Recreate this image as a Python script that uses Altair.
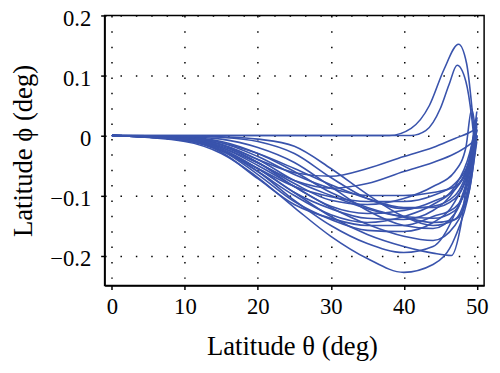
import altair as alt
import pandas as pd

# Each trajectory: latitude theta (x, deg) and latitude phi (y, deg)
peak_a_x = [0, 20, 38, 41, 43.5, 45.5, 47.5, 48.6, 49.3, 49.8]
peak_a_y = [0, 0, 0, 0.012, 0.05, 0.11, 0.152, 0.12, 0.05, -0.02]

peak_b_x = [0, 20, 41, 43, 45, 46.2, 47.3, 48.5, 49.3, 49.8]
peak_b_y = [0, 0, 0, 0.008, 0.045, 0.085, 0.117, 0.09, 0.03, -0.03]

xs_common = [0, 10, 15, 20, 25, 30, 35, 40, 44, 47, 49, 50]

c1_y = [0, -0.010, -0.030, -0.070, -0.120, -0.168, -0.205, -0.228, -0.215, -0.170, -0.090, -0.010]
c2_x = [0, 10, 15, 20, 25, 30, 35, 40, 44, 46.5, 47.8, 49.0, 49.8]
c2_y = [0, -0.008, -0.025, -0.055, -0.095, -0.135, -0.165, -0.185, -0.196, -0.200, -0.150, -0.040, 0.020]
c3_y = [0, -0.008, -0.025, -0.060, -0.108, -0.150, -0.180, -0.195, -0.185, -0.130, -0.060, 0.000]
c4_y = [0, -0.006, -0.020, -0.050, -0.085, -0.120, -0.148, -0.168, -0.175, -0.150, -0.080, 0.010]
c5_y = [0, -0.008, -0.025, -0.065, -0.110, -0.140, -0.158, -0.160, -0.145, -0.110, -0.050, 0.030]
c6_y = [0, -0.004, -0.015, -0.040, -0.075, -0.100, -0.122, -0.136, -0.145, -0.140, -0.090, 0.000]
c7_y = [0, -0.006, -0.022, -0.055, -0.095, -0.122, -0.138, -0.140, -0.125, -0.090, -0.040, 0.020]
c8_y = [0, -0.003, -0.010, -0.030, -0.060, -0.095, -0.120, -0.135, -0.138, -0.125, -0.060, 0.010]
c9_y = [0, -0.002, -0.006, -0.020, -0.045, -0.085, -0.125, -0.150, -0.155, -0.130, -0.060, 0.000]
c10_y = [0, -0.008, -0.025, -0.055, -0.085, -0.102, -0.110, -0.110, -0.100, -0.080, -0.040, 0.040]
c11_y = [0, -0.004, -0.015, -0.040, -0.062, -0.068, -0.055, -0.035, -0.020, -0.005, 0.005, 0.012]
c12_y = [0, -0.006, -0.020, -0.046, -0.075, -0.088, -0.080, -0.060, -0.045, -0.030, -0.015, -0.005]
c13_y = [0, -0.004, -0.012, -0.035, -0.065, -0.088, -0.100, -0.100, -0.095, -0.085, -0.050, 0.020]
c14_y = [0, -0.005, -0.018, -0.045, -0.085, -0.118, -0.130, -0.125, -0.110, -0.090, -0.040, 0.030]
c15_y = [0, -0.003, -0.012, -0.030, -0.055, -0.082, -0.105, -0.120, -0.120, -0.105, -0.050, 0.010]
c16_y = [0, -0.008, -0.028, -0.072, -0.115, -0.138, -0.150, -0.150, -0.135, -0.120, -0.070, 0.000]
c17_x = [0, 10, 15, 20, 25, 30, 35, 40, 44, 47, 48.5, 49.3, 49.8]
c17_y = [0, -0.005, -0.016, -0.045, -0.080, -0.108, -0.115, -0.105, -0.085, -0.060, -0.020, 0.044, 0.010]
c18_y = [0, -0.007, -0.024, -0.060, -0.100, -0.132, -0.145, -0.135, -0.115, -0.085, -0.030, 0.026]
c19_y = [0, -0.001, -0.002, -0.006, -0.018, -0.055, -0.098, -0.135, -0.150, -0.140, -0.075, 0.000]
c20_y = [0, -0.001, -0.003, -0.010, -0.030, -0.070, -0.105, -0.122, -0.118, -0.100, -0.045, 0.015]

curves = {
    "pa": (peak_a_x, peak_a_y), "pb": (peak_b_x, peak_b_y),
    "c1": (xs_common, c1_y), "c2": (c2_x, c2_y), "c3": (xs_common, c3_y),
    "c4": (xs_common, c4_y), "c5": (xs_common, c5_y), "c6": (xs_common, c6_y),
    "c7": (xs_common, c7_y), "c8": (xs_common, c8_y), "c9": (xs_common, c9_y),
    "c10": (xs_common, c10_y), "c11": (xs_common, c11_y), "c12": (xs_common, c12_y),
    "c13": (xs_common, c13_y), "c14": (xs_common, c14_y), "c15": (xs_common, c15_y),
    "c16": (xs_common, c16_y), "c17": (c17_x, c17_y), "c18": (xs_common, c18_y),
    "c19": (xs_common, c19_y), "c20": (xs_common, c20_y),
}

rows = []
for name, (xv, yv) in curves.items():
    for i, (a, b) in enumerate(zip(xv, yv)):
        rows.append({"curve": name, "x": a, "y": b, "order": i})
df = pd.DataFrame(rows)

FONT = "Liberation Serif"

chart = alt.Chart(df).mark_line(
    interpolate="monotone", color="#3953AC", strokeWidth=1.6
).encode(
    x=alt.X("x:Q", scale=alt.Scale(domain=[-1, 51], nice=False, zero=False),
            axis=alt.Axis(values=[0, 10, 20, 30, 40, 50], title="Latitude θ (deg)",
                          titleX=190, titleY=70, titleBaseline="alphabetic")),
    y=alt.Y("y:Q", scale=alt.Scale(domain=[-0.25, 0.2], nice=False, zero=False),
            axis=alt.Axis(values=[-0.2, -0.1, 0, 0.1, 0.2], format="~g",
                          title="Latitude ϕ (deg)", titleX=-82, titleY=137,
                          titleAngle=-90, titleBaseline="middle", titleAlign="center",
                          labelOffset=3)),
    detail="curve:N",
    order="order:Q",
).properties(
    width=385, height=274,
    autosize=alt.AutoSizeParams(type="none"),
    padding={"left": 98, "top": 5, "right": 8, "bottom": 77},
).configure_view(
    stroke="black", strokeWidth=1.5
).configure_axis(
    domainColor="black", domainWidth=1.5,
    tickColor="black", tickSize=4, tickWidth=1.5,
    labelFont=FONT, labelFontSize=23, labelColor="black",
    titleFont=FONT, titleFontSize=27, titleColor="black", titleFontWeight="normal",
    grid=True, gridColor="black", gridWidth=1.5, gridDash=[1.5, 14.1], gridOpacity=1,
).configure_axisX(
    labelPadding=6
).configure_axisY(
    labelPadding=10
)

chart.save("out.html", embed_options={"renderer": "svg", "actions": False})
